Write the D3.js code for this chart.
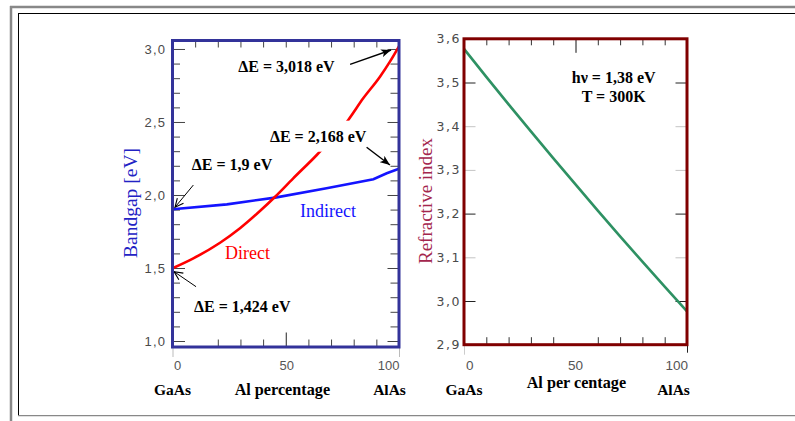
<!DOCTYPE html>
<html><head><meta charset="utf-8">
<script src="https://cdn.jsdelivr.net/npm/d3@7"></script>
<style>body{margin:0;background:#fff;} svg{display:block}</style>
</head><body>
<svg id="c" width="795" height="421"></svg>
<script>
// ---------- data ----------
const directAl   = [0, 9.2, 21, 29.8, 38.6, 45.3, 53.3, 63.7, 77.6, 84.2, 91.6, 96, 100];
const directEg   = [1.498, 1.566, 1.673, 1.772, 1.89, 1.988, 2.114, 2.274, 2.514, 2.662, 2.81, 2.913, 3.018];
const indirectAl = [0, 24, 45.3, 68, 88.7, 94.6, 100];
const indirectEg = [1.902, 1.936, 1.982, 2.046, 2.108, 2.149, 2.18];
const refrAl     = [0, 10, 20, 30, 40, 50, 60, 70, 80, 90, 100];
const refrN      = [3.577, 3.513, 3.450, 3.388, 3.327, 3.267, 3.207, 3.148, 3.090, 3.033, 2.976];

const bgMajor = [1.0, 1.5, 2.0, 2.5, 3.0];
const bgMinor = [1.1,1.2,1.3,1.4,1.6,1.7,1.8,1.9,2.1,2.2,2.3,2.4,2.6,2.7,2.8,2.9];
const riTicks = [2.9, 3.0, 3.1, 3.2, 3.3, 3.4, 3.5, 3.6];
const riFaint = [3.1, 3.3, 3.4];
const xLabelVals = [0, 50, 100];
const xTopMinor = [10,20,30,40,60,70,80,90];
const xBotMinorL = [20,30,40,60,70,80,90];
const xMajor = [50];
const endLabels = ["GaAs", "AlAs"];
const xTitleL = "Al percentage";
const xTitleR = "Al per centage";
const yTitleL = "Bandgap [eV]";
const yTitleR = "Refractive index";
const bgNotes = [
  {text:"ΔE = 3,018 eV", al:29.0, v:2.839, from:[78.4,2.895], to:[96.5,2.993], head:"solid"},
  {text:"ΔE = 2,168 eV", al:43.0, v:2.365, from:[85.7,2.327], to:[96.0,2.205], head:"solid", mask:true},
  {text:"ΔE = 1,9 eV",   al:8.5,  v:2.171, from:[9.2,2.068],  to:[1.1,1.916],  head:"open"},
  {text:"ΔE = 1,424 eV", al:9.5,  v:1.202, from:[10.4,1.372], to:[0.7,1.475],  head:"open"}
];
const riNotes = ["hν = 1,38 eV", "T = 300K"];

// ---------- setup ----------
const svg = d3.select("#c");
const fmt = d3.formatLocale({decimal:",", thousands:".", grouping:[3], currency:["",""]}).format(".1f");
const serif = "'Liberation Serif','Times New Roman',serif";
const sans = "'Liberation Sans',Arial,sans-serif";

// outer page frame
svg.append("rect").attr("x",0).attr("y",0).attr("width",795).attr("height",421).attr("fill","#fff");
svg.append("line").attr("x1",10).attr("x2",795).attr("y1",7).attr("y2",7).attr("stroke","#888").attr("stroke-width",2.5);
svg.append("line").attr("x1",11).attr("x2",11).attr("y1",6).attr("y2",421).attr("stroke","#888").attr("stroke-width",2.5);
svg.append("line").attr("x1",18).attr("x2",795).attr("y1",13.5).attr("y2",13.5).attr("stroke","#000").attr("stroke-width",1);
svg.append("line").attr("x1",18.5).attr("x2",18.5).attr("y1",13).attr("y2",416).attr("stroke","#000").attr("stroke-width",1);
svg.append("line").attr("x1",18).attr("x2",795).attr("y1",415.7).attr("y2",415.7).attr("stroke","#888").attr("stroke-width",1.3);

function clean(g){ g.select(".domain").remove(); }

// ================= LEFT CHART =================
const xL = d3.scaleLinear().domain([0,100]).range([172.5,399]);
const yL = d3.scaleLinear().domain([0.959,3.058]).range([347,40.5]);
const tickCol = "#444";

const gl = svg.append("g");
gl.append("g").attr("transform",`translate(${xL(0)},0)`)
  .call(d3.axisLeft(yL).tickValues(bgMinor).tickSize(-7.5).tickFormat(""))
  .call(clean).call(g=>g.selectAll("line").attr("stroke",tickCol));
gl.append("g").attr("transform",`translate(${xL(0)},0)`)
  .call(d3.axisLeft(yL).tickValues(bgMajor).tickSize(-12.5).tickPadding(6.3).tickFormat(fmt))
  .call(clean).call(g=>{
    g.selectAll("line").attr("stroke",tickCol);
    g.selectAll("text").attr("font-family",sans).attr("font-size",13).attr("fill","#4a4a4a")
     .attr("letter-spacing",1.2);
  });
gl.append("g").attr("transform",`translate(${xL(100)},0)`)
  .call(d3.axisRight(yL).tickValues(bgMinor).tickSize(-8.5).tickFormat(""))
  .call(clean).call(g=>g.selectAll("line").attr("stroke",tickCol));
gl.append("g").attr("transform",`translate(${xL(100)},0)`)
  .call(d3.axisRight(yL).tickValues(bgMajor).tickSize(-11.5).tickFormat(""))
  .call(clean).call(g=>g.selectAll("line").attr("stroke",tickCol));
gl.append("g").attr("transform",`translate(0,${yL.range()[1]})`)
  .call(d3.axisTop(xL).tickValues(xTopMinor.concat(xMajor)).tickSize(-7).tickFormat(""))
  .call(clean).call(g=>g.selectAll("line").attr("stroke",tickCol));
gl.append("g").attr("transform",`translate(0,${yL.range()[0]})`)
  .call(d3.axisBottom(xL).tickValues(xBotMinorL).tickSize(-7.5).tickFormat(""))
  .call(clean).call(g=>g.selectAll("line").attr("stroke",tickCol));
gl.append("g").attr("transform",`translate(0,${yL.range()[0]})`)
  .call(d3.axisBottom(xL).tickValues(xMajor).tickSize(-14.5).tickFormat(""))
  .call(clean).call(g=>g.selectAll("line").attr("stroke","#222"));
gl.append("g").attr("transform",`translate(0,${yL.range()[0]})`)
  .call(d3.axisBottom(xL).tickValues([0,100]).tickSize(10).tickFormat(""))
  .call(clean).call(g=>g.selectAll("line").attr("stroke","#bbb"));

const lineL = d3.line().x(d=>xL(d[0])).y(d=>yL(d[1]));
const lineLs = d3.line().curve(d3.curveMonotoneX).x(d=>xL(d[0])).y(d=>yL(d[1]));
gl.append("path").datum(indirectAl.map((a,i)=>[a,indirectEg[i]]))
  .attr("d",lineL).attr("fill","none").attr("stroke","#1414ff").attr("stroke-width",2.6);
gl.append("path").datum(directAl.map((a,i)=>[a,directEg[i]]))
  .attr("d",lineLs).attr("fill","none").attr("stroke","#ff0000").attr("stroke-width",2.6);

gl.append("rect").attr("x",xL(0)).attr("y",yL.range()[1])
  .attr("width",xL(100)-xL(0)).attr("height",yL.range()[0]-yL.range()[1])
  .attr("fill","none").attr("stroke","#33339a").attr("stroke-width",3);

const defs = svg.append("defs");
defs.append("marker").attr("id","aSolid").attr("markerUnits","userSpaceOnUse")
  .attr("viewBox","0 0 10 8").attr("refX",10).attr("refY",4)
  .attr("markerWidth",10).attr("markerHeight",8).attr("orient","auto")
  .append("path").attr("d","M0,0 L10,4 L0,8 L2.5,4 z").attr("fill","#000");
defs.append("marker").attr("id","aOpen").attr("markerUnits","userSpaceOnUse")
  .attr("viewBox","0 0 10 10").attr("refX",9.5).attr("refY",5)
  .attr("markerWidth",10).attr("markerHeight",10).attr("orient","auto")
  .append("path").attr("d","M1,1 L9.5,5 L1,9").attr("fill","none").attr("stroke","#000").attr("stroke-width",1.1);

bgNotes.forEach(n=>{
  const t = gl.append("text").attr("x",xL(n.al)).attr("y",yL(n.v))
    .attr("font-family",serif).attr("font-weight","bold").attr("font-size",16).attr("fill","#000")
    .text(n.text);
  if(n.mask){
    const b = t.node().getBBox();
    gl.insert("rect", () => t.node()).attr("x",b.x-2).attr("y",b.y-7).attr("width",b.width+4).attr("height",b.height+14).attr("fill","#fff");
  }
  gl.append("line").attr("x1",xL(n.from[0])).attr("y1",yL(n.from[1]))
    .attr("x2",xL(n.to[0])).attr("y2",yL(n.to[1]))
    .attr("stroke","#000").attr("stroke-width",n.head==="solid"?1.4:1)
    .attr("marker-end",`url(#${n.head==="solid"?"aSolid":"aOpen"})`);
});
gl.append("text").attr("x",xL(23.2)).attr("y",yL(1.562)).attr("font-family",serif)
  .attr("font-size",18).attr("fill","#ff0000").text("Direct");
gl.append("text").attr("x",xL(56.3)).attr("y",yL(1.846)).attr("font-family",serif)
  .attr("font-size",18).attr("fill","#1414ff").text("Indirect");

gl.append("text").attr("transform",`translate(130,203) rotate(-90)`).attr("text-anchor","middle")
  .attr("dominant-baseline","central").attr("font-family",serif).attr("font-size",19.5)
  .attr("fill","#2222c4").text(yTitleL);

gl.selectAll(".xl").data(xLabelVals).join("text")
  .attr("x",(d,i)=> i===0? xL(d)+1.5 : i===2? xL(d)+0.5 : xL(d)+1)
  .attr("y",370).attr("text-anchor",(d,i)=> i===0?"start": i===2?"end":"middle")
  .attr("font-family",sans).attr("font-size",13).attr("fill","#555").text(d=>d);
gl.append("text").attr("x",xL(0)).attr("y",394.5).attr("text-anchor","middle")
  .attr("font-family",serif).attr("font-weight","bold").attr("font-size",15.5).text(endLabels[0]);
gl.append("text").attr("x",xL(100)-9.5).attr("y",394.5).attr("text-anchor","middle")
  .attr("font-family",serif).attr("font-weight","bold").attr("font-size",15.5).text(endLabels[1]);
gl.append("text").attr("x",xL(48.5)).attr("y",394.5).attr("text-anchor","middle")
  .attr("font-family",serif).attr("font-weight","bold").attr("font-size",16.2).text(xTitleL);

// ================= RIGHT CHART =================
const xR = d3.scaleLinear().domain([0,100]).range([464,687]);
const yR = d3.scaleLinear().domain([2.9,3.6]).range([344.7,38.8]);
const gr = svg.append("g");
const riCol = d => riFaint.some(f=>Math.abs(f-d)<1e-6) ? "#c4c4c4" : "#222";

gr.append("g").attr("transform",`translate(${xR(0)},0)`)
  .call(d3.axisLeft(yR).tickValues(riTicks).tickSize(-11.5).tickPadding(3).tickFormat(fmt))
  .call(clean).call(g=>{
    g.selectAll("line").attr("stroke",riCol);
    g.selectAll("text").attr("font-family","'DejaVu Sans',sans-serif").attr("font-size",12.5)
     .attr("fill","#4a4a4a").attr("letter-spacing",1.5);
  });
gr.append("g").attr("transform",`translate(${xR(100)},0)`)
  .call(d3.axisRight(yR).tickValues(riTicks.slice(1,-1)).tickSize(-11.5).tickFormat(""))
  .call(clean).call(g=>g.selectAll("line").attr("stroke",riCol));
gr.append("g").attr("transform",`translate(0,${yR.range()[1]})`)
  .call(d3.axisTop(xR).tickValues(xTopMinor).tickSize(-6.5).tickFormat(""))
  .call(clean).call(g=>g.selectAll("line").attr("stroke","#333"));
gr.append("g").attr("transform",`translate(0,${yR.range()[1]})`)
  .call(d3.axisTop(xR).tickValues(xMajor).tickSize(-14).tickFormat(""))
  .call(clean).call(g=>g.selectAll("line").attr("stroke","#111"));
gr.append("g").attr("transform",`translate(0,${yR.range()[0]})`)
  .call(d3.axisBottom(xR).tickValues(xTopMinor).tickSize(-7.5).tickFormat(""))
  .call(clean).call(g=>g.selectAll("line").attr("stroke","#333"));
gr.append("g").attr("transform",`translate(0,${yR.range()[0]})`)
  .call(d3.axisBottom(xR).tickValues([100]).tickSize(8).tickFormat(""))
  .call(clean).call(g=>g.selectAll("line").attr("stroke","#222"));
gr.append("g").attr("transform",`translate(0,${yR.range()[0]})`)
  .call(d3.axisBottom(xR).tickValues([0]).tickSize(10).tickFormat(""))
  .call(clean).call(g=>g.selectAll("line").attr("stroke","#ccc"));

const lineR = d3.line().x(d=>xR(d[0])).y(d=>yR(d[1]));
gr.append("path").datum(refrAl.map((a,i)=>[a,refrN[i]]))
  .attr("d",lineR).attr("fill","none").attr("stroke","#2e9163").attr("stroke-width",2.6);

gr.append("rect").attr("x",xR(0)).attr("y",yR.range()[1])
  .attr("width",xR(100)-xR(0)).attr("height",yR.range()[0]-yR.range()[1])
  .attr("fill","none").attr("stroke","#800000").attr("stroke-width",3);

gr.selectAll(".rn").data(riNotes).join("text")
  .attr("x",613.7).attr("y",(d,i)=>83+i*18.7).attr("text-anchor","middle")
  .attr("font-family",serif).attr("font-weight","bold").attr("font-size",16).text(d=>d);

gr.append("text").attr("transform",`translate(425,201) rotate(-90)`).attr("text-anchor","middle")
  .attr("dominant-baseline","central").attr("font-family",serif).attr("font-size",19)
  .attr("fill","#a3264d").text(yTitleR);

gr.selectAll(".xr").data(xLabelVals).join("text")
  .attr("x",(d,i)=> i===0? xR(d)+2 : i===2? xR(d)+1 : xR(d))
  .attr("y",370).attr("text-anchor",(d,i)=> i===0?"start": i===2?"end":"middle")
  .attr("font-family",sans).attr("font-size",13.5).attr("fill","#555").text(d=>d);
gr.append("text").attr("x",xR(0)).attr("y",395).attr("text-anchor","middle")
  .attr("font-family",serif).attr("font-weight","bold").attr("font-size",15.5).text(endLabels[0]);
gr.append("text").attr("x",xR(100)-13.5).attr("y",395).attr("text-anchor","middle")
  .attr("font-family",serif).attr("font-weight","bold").attr("font-size",15.5).text(endLabels[1]);
gr.append("text").attr("x",xR(50.4)).attr("y",388).attr("text-anchor","middle")
  .attr("font-family",serif).attr("font-weight","bold").attr("font-size",16.2).text(xTitleR);
</script>
</body></html>
